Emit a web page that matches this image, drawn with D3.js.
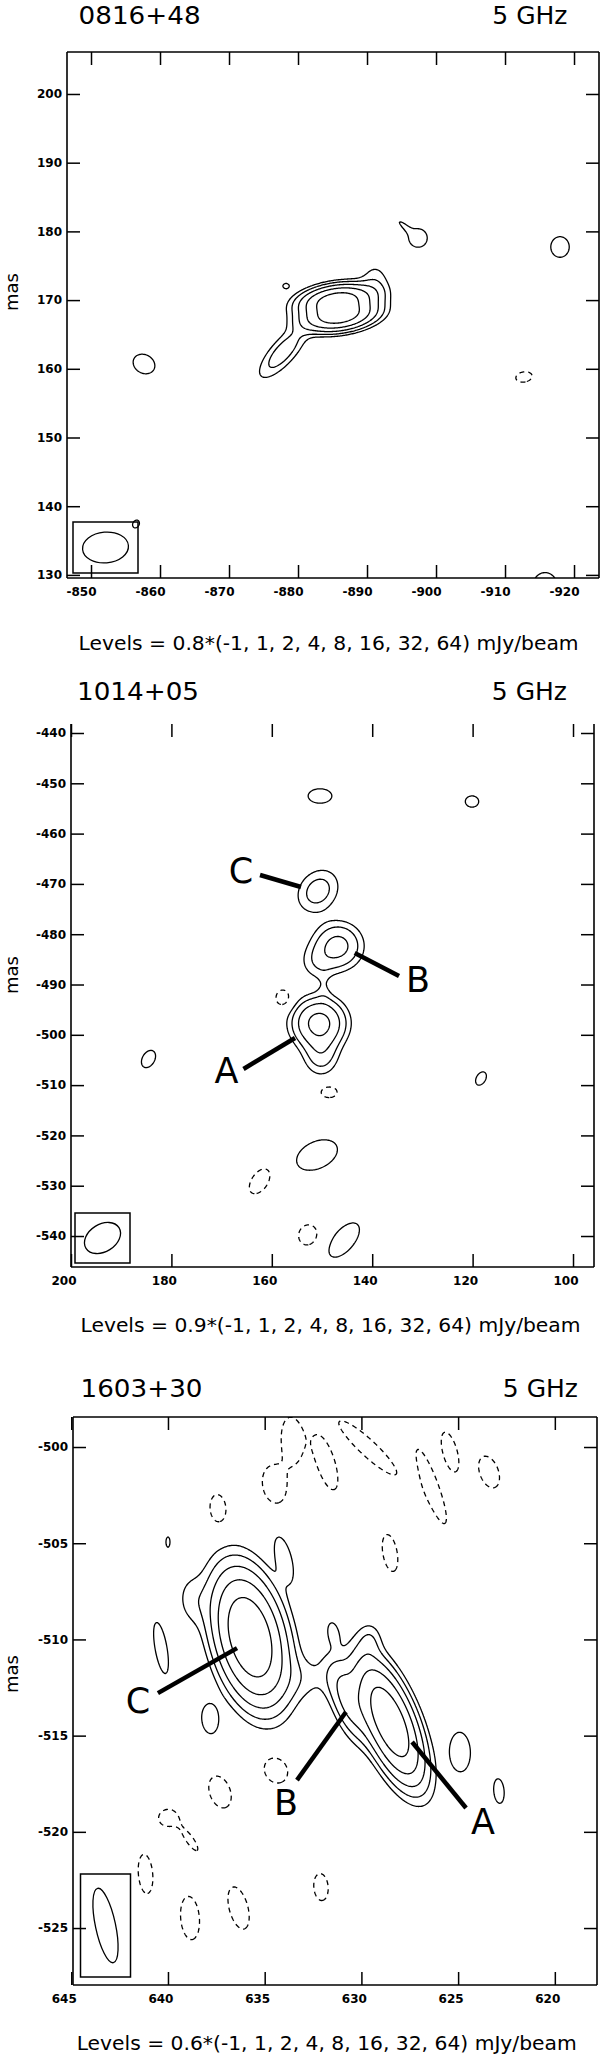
<!DOCTYPE html>
<html><head><meta charset="utf-8">
<script src="https://cdn.jsdelivr.net/npm/d3@7"></script>
<style>body{margin:0;background:#fff} svg{display:block}</style>
</head><body>
<svg id="chart" width="600" height="2055"></svg>
<script>
// ---------------- DATA ----------------
const levelMultipliers = [-1, 1, 2, 4, 8, 16, 32, 64];

// Panel 1 : 0816+48
const p1Title = "0816+48";
const p1Freq = "5 GHz";
const p1Base = 0.8;
const p1XTicks = [-850, -860, -870, -880, -890, -900, -910, -920];
const p1YTicks = [130, 140, 150, 160, 170, 180, 190, 200];
const p1XDomain = [-846.52, -923.62];
const p1YDomain = [129.55, 206.11];
// components: [x mas, y mas, peak mJy/beam, sigma major mas, sigma minor mas, angle deg]
const p1Components = [
  [-885.64, 170.00, 18.3, 2.90, 1.16, 8],
  [-885.96, 167.70, 18.3, 2.90, 1.16, 8],
  [-877.83, 162.45, 2.4, 3.19, 1.16, 48],
  [-891.16, 172.60, 1.2, 2.03, 1.45, 90],
  [-897.39, 179.04, 1.36, 1.30, 1.30, 0],
  [-895.36, 180.79, 0.96, 1.30, 0.36, -42],
  [-917.97, 177.73, 1.36, 1.45, 1.30, 90],
  [-878.26, 172.05, 1.36, 0.43, 0.36, 0],
  [-857.68, 160.70, 1.36, 1.60, 1.30, -30],
  [-912.75, 158.81, -1.36, 1.16, 0.72, 10],
  [-915.80, 128.68, 1.36, 1.60, 1.60, 0],
  [-856.52, 137.41, 1.36, 0.58, 0.45, 60]
];
const p1Beam = [3.34, 2.23, 5]; // semi-major, semi-minor (mas), angle

// Panel 2 : 1014+05
const p2Title = "1014+05";
const p2Freq = "5 GHz";
const p2Base = 0.9;
const p2XTicks = [200, 180, 160, 140, 120, 100];
const p2YTicks = [-440, -450, -460, -470, -480, -490, -500, -510, -520, -530, -540];
const p2XDomain = [200, 95.82];
const p2YDomain = [-546.16, -438.21];
const p2Components = [
  [150.40, -452.52, 1.53, 2.29, 1.39, 0],
  [120.12, -453.62, 1.53, 1.29, 1.09, 0],
  [150.80, -471.41, 2.52, 3.09, 2.49, 50],
  [146.81, -482.35, 4.5, 2.90, 2.78, 0],
  [150.80, -485.53, 1.44, 2.39, 2.39, 0],
  [150.60, -497.65, 9.0, 2.99, 2.78, 0],
  [150.20, -503.62, 2.7, 2.78, 2.19, 90],
  [149.60, -490.90, 0.54, 2.39, 1.00, 90],
  [157.77, -492.68, -1.53, 1.59, 1.39, 90],
  [148.61, -511.37, -1.53, 1.59, 1.09, 0],
  [184.56, -504.81, 1.53, 1.79, 1.19, 60],
  [118.33, -508.69, 1.53, 1.39, 0.90, 60],
  [151.00, -523.90, 1.53, 4.18, 2.59, 25],
  [162.35, -529.07, -1.53, 2.79, 1.59, 55],
  [152.79, -539.80, -1.53, 1.99, 1.79, 70],
  [145.62, -540.80, 1.53, 3.98, 1.99, 50]
];
const p2Beam = [3.87, 2.73, 32];
const p2Labels = ["C", "B", "A"];
const p2LabelPos = [[166.14, -467.24], [130.88, -488.91], [169.02, -507.0]];
const p2Pointers = [[162.35, -468.23, 154.18, -470.62], [143.49, -483.74, 134.66, -488.31], [165.64, -506.8, 155.38, -500.64]];

// Panel 3 : 1603+30
const p3Title = "1603+30";
const p3Freq = "5 GHz";
const p3Base = 0.6;
const p3XTicks = [645, 640, 635, 630, 625, 620];
const p3YTicks = [-500, -505, -510, -515, -520, -525];
const p3XDomain = [644.91, 617.82];
const p3YDomain = [-527.96, -498.44];
const p3Components = [
  [635.76, -509.88, 18.0, 1.87, 0.93, 104],
  [638.76, -507.95, 0.78, 0.94, 0.57, 95],
  [640.36, -510.45, 1.02, 1.30, 0.30, 100],
  [634.00, -505.77, 1.02, 1.09, 0.36, 105],
  [640.00, -504.94, 1.02, 0.26, 0.10, 90],
  [637.83, -514.14, 1.02, 0.73, 0.41, 95],
  [624.90, -515.85, 1.02, 0.99, 0.52, 92],
  [622.89, -517.88, 1.02, 0.62, 0.26, 95],
  [628.52, -514.29, 16.8, 1.81, 0.67, 112],
  [630.69, -513.15, 3.0, 1.35, 0.52, 110],
  [632.92, -512.01, 0.66, 1.14, 0.78, 0],
  [631.47, -509.62, 0.84, 0.52, 0.26, 100],
  [629.56, -510.03, 0.9, 0.62, 0.41, 90],
  [633.59, -499.64, -1.02, 1.14, 0.52, 95],
  [631.83, -500.83, -1.02, 1.40, 0.45, 107],
  [629.66, -500.05, -1.02, 1.94, 0.41, -43],
  [626.40, -502.03, -1.02, 1.96, 0.36, 110],
  [625.42, -500.26, -1.02, 1.03, 0.36, 105],
  [623.40, -501.30, -1.02, 0.83, 0.47, 110],
  [634.52, -501.98, -1.02, 0.94, 0.57, 100],
  [637.41, -503.22, -1.02, 0.73, 0.41, 95],
  [628.52, -505.51, -1.02, 0.94, 0.36, 100],
  [634.42, -516.79, -1.02, 0.68, 0.57, 120],
  [637.31, -517.93, -1.02, 0.83, 0.52, 110],
  [640.00, -519.28, -1.02, 0.47, 0.42, 0],
  [638.86, -520.43, -0.90, 0.72, 0.21, -55],
  [641.16, -522.19, -1.02, 0.99, 0.36, 95],
  [638.86, -524.48, -1.02, 1.09, 0.47, 95],
  [636.35, -523.96, -1.02, 1.09, 0.47, 105],
  [632.09, -522.87, -1.02, 0.68, 0.36, 95]
];
const p3Beam = [1.97, 0.52, 102];
const p3Labels = ["C", "B", "A"];
const p3LabelPos = [[641.55, -513.15], [633.90, -518.45], [623.71, -519.44]];
const p3Pointers = [[640.52, -512.79, 636.43, -510.45], [633.33, -517.31, 630.80, -513.77], [627.38, -515.33, 624.59, -518.76]];

// ---------------- LAYOUT ----------------
const panels = [
  {title: p1Title, freq: p1Freq, base: p1Base, xTicks: p1XTicks, yTicks: p1YTicks, xDomain: p1XDomain, yDomain: p1YDomain,
   comps: p1Components, beam: p1Beam, labels: [], labelPos: [], pointers: [],
   box: {left: 67, right: 599, top: 52, bottom: 578}, topLine: true,
   titleY: 24, titleX: 78.6, freqX: 567.5, levelsY: 650, levelsX: 78.6, masY: 292,
   beamBox: {dx: 6, dy: 5, w: 65, h: 51}},
  {title: p2Title, freq: p2Freq, base: p2Base, xTicks: p2XTicks, yTicks: p2YTicks, xDomain: p2XDomain, yDomain: p2YDomain,
   comps: p2Components, beam: p2Beam, labels: p2Labels, labelPos: p2LabelPos, pointers: p2Pointers,
   box: {left: 71, right: 594, top: 724, bottom: 1267}, topLine: false,
   titleY: 700, titleX: 77, freqX: 567, levelsY: 1332, levelsX: 80.5, masY: 975,
   beamBox: {dx: 4, dy: 4, w: 55, h: 50}},
  {title: p3Title, freq: p3Freq, base: p3Base, xTicks: p3XTicks, yTicks: p3YTicks, xDomain: p3XDomain, yDomain: p3YDomain,
   comps: p3Components, beam: p3Beam, labels: p3Labels, labelPos: p3LabelPos, pointers: p3Pointers,
   box: {left: 73, right: 597, top: 1417, bottom: 1985}, topLine: true,
   titleY: 1397, titleX: 80.5, freqX: 578, levelsY: 2050, levelsX: 76.7, masY: 1674,
   beamBox: {dx: 7.5, dy: 8, w: 50, h: 103}}
];

const svg = d3.select("#chart");
const FONT = "DejaVu Sans, Verdana, sans-serif";

panels.forEach((P, pi) => {
  const {left, right, top, bottom} = P.box;
  const x = d3.scaleLinear().domain(P.xDomain).range([left, right]);
  const y = d3.scaleLinear().domain(P.yDomain).range([bottom, top]);
  const k = (Math.abs(x(1) - x(0)) + Math.abs(y(1) - y(0))) / 2;
  const g = svg.append("g");

  // titles
  g.append("text").attr("x", P.titleX).attr("y", P.titleY).attr("font-family", FONT)
    .attr("font-size", 25).attr("textLength", 122).attr("lengthAdjust", "spacingAndGlyphs").text(P.title);
  g.append("text").attr("x", P.freqX).attr("y", P.titleY).attr("font-family", FONT)
    .attr("font-size", 25).attr("text-anchor", "end").text(P.freq);
  g.append("text").attr("x", P.levelsX).attr("y", P.levelsY).attr("font-family", FONT)
    .attr("font-size", 20).attr("textLength", 500).attr("lengthAdjust", "spacingAndGlyphs")
    .text(`Levels = ${P.base}*(${levelMultipliers.join(", ")}) mJy/beam`);
  g.append("text").attr("transform", `translate(18,${P.masY}) rotate(-90)`).attr("font-family", FONT)
    .attr("font-size", 18).attr("text-anchor", "middle").text("mas");

  // field grid
  const pad = 12;
  const gx0 = Math.floor(left) - pad, gy0 = Math.floor(top) - pad;
  const n = Math.ceil(right - left) + 2 * pad, m = Math.ceil(bottom - top) + 2 * pad;
  const comps = P.comps.map(([cx, cy, peak, sa, sb, ang]) => {
    const t = ang * Math.PI / 180;
    return {px: x(cx), py: y(cy), peak, a2: 2 * (sa * k) ** 2, b2: 2 * (sb * k) ** 2, c: Math.cos(t), s: Math.sin(t)};
  });
  const values = new Float64Array(n * m);
  for (let j = 0; j < m; j++) {
    const py = gy0 + j + 0.5;
    for (let i = 0; i < n; i++) {
      const px = gx0 + i + 0.5;
      let f = 0;
      for (const c of comps) {
        const dx = px - c.px, dy = c.py - py;
        const u = dx * c.c + dy * c.s, v = -dx * c.s + dy * c.c;
        const q = u * u / c.a2 + v * v / c.b2;
        if (q < 40) f += c.peak * Math.exp(-q);
      }
      values[j * n + i] = f;
    }
  }
  const posLevels = levelMultipliers.filter(l => l > 0).map(l => l * P.base);
  const negLevels = levelMultipliers.filter(l => l < 0).map(l => -l * P.base);
  const posContours = d3.contours().size([n, m]).thresholds(posLevels)(values);
  const negContours = d3.contours().size([n, m]).thresholds(negLevels)(values.map(v => -v));

  const clipId = "clip" + pi;
  svg.append("clipPath").attr("id", clipId).append("rect")
    .attr("x", left).attr("y", top).attr("width", right - left).attr("height", bottom - top);
  const cg = g.append("g").attr("clip-path", `url(#${clipId})`)
    .append("g").attr("transform", `translate(${gx0},${gy0})`);
  const path = d3.geoPath();
  cg.selectAll("path.pos").data(posContours).join("path").attr("class", "pos")
    .attr("d", path).attr("fill", "none").attr("stroke", "#000").attr("stroke-width", 1.3);
  cg.selectAll("path.neg").data(negContours).join("path").attr("class", "neg")
    .attr("d", path).attr("fill", "none").attr("stroke", "#000").attr("stroke-width", 1.3)
    .attr("stroke-dasharray", "5,4");

  // beam
  const bb = P.beamBox;
  const bx = left + bb.dx, by = bottom - bb.dy - bb.h;
  g.append("rect").attr("x", bx).attr("y", by).attr("width", bb.w).attr("height", bb.h)
    .attr("fill", "none").attr("stroke", "#000").attr("stroke-width", 1.5);
  const [ba, bbm, bang] = P.beam;
  g.append("ellipse").attr("cx", bx + bb.w / 2).attr("cy", by + bb.h / 2)
    .attr("rx", ba * k).attr("ry", bbm * k)
    .attr("transform", `rotate(${-bang},${bx + bb.w / 2},${by + bb.h / 2})`)
    .attr("fill", "none").attr("stroke", "#000").attr("stroke-width", 1.3);

  // pointers + labels
  g.selectAll("line.ptr").data(P.pointers).join("line").attr("class", "ptr")
    .attr("x1", d => x(d[0])).attr("y1", d => y(d[1])).attr("x2", d => x(d[2])).attr("y2", d => y(d[3]))
    .attr("stroke", "#000").attr("stroke-width", 4.5);
  g.selectAll("text.lab").data(P.labels).join("text").attr("class", "lab")
    .attr("x", (d, i) => x(P.labelPos[i][0])).attr("y", (d, i) => y(P.labelPos[i][1]))
    .attr("dy", "0.36em").attr("text-anchor", "middle").attr("font-family", FONT).attr("font-size", 35).text(d => d);

  // axes
  const tk = 13;
  const fmt = d => String(d);
  const axB = g.append("g").attr("transform", `translate(0,${bottom})`)
    .call(d3.axisBottom(x).tickValues(P.xTicks).tickSize(-tk).tickFormat(fmt));
  axB.selectAll("text").attr("y", 18).attr("dy", null).attr("x", 5).attr("text-anchor", "end");
  const axT = g.append("g").attr("transform", `translate(0,${top})`)
    .call(d3.axisTop(x).tickValues(P.xTicks).tickSize(-tk).tickFormat(""));
  const axL = g.append("g").attr("transform", `translate(${left},0)`)
    .call(d3.axisLeft(y).tickValues(P.yTicks).tickSize(-tk).tickFormat(fmt));
  axL.selectAll("text").attr("x", -5).attr("text-anchor", "end");
  const axR = g.append("g").attr("transform", `translate(${right},0)`)
    .call(d3.axisRight(y).tickValues(P.yTicks).tickSize(-tk).tickFormat(""));
  [axB, axT, axL, axR].forEach(a => {
    a.select(".domain").remove();
    a.attr("font-family", FONT).attr("font-size", 12).attr("font-weight", "bold");
    a.selectAll("line").attr("stroke-width", 1.5);
  });
  // frame
  const fr = g.append("g").attr("stroke", "#000").attr("stroke-width", 1.6).attr("fill", "none");
  fr.append("line").attr("x1", left).attr("x2", left).attr("y1", top).attr("y2", bottom);
  fr.append("line").attr("x1", right).attr("x2", right).attr("y1", top).attr("y2", bottom);
  fr.append("line").attr("x1", left).attr("x2", right).attr("y1", bottom).attr("y2", bottom);
  if (P.topLine) fr.append("line").attr("x1", left).attr("x2", right).attr("y1", top).attr("y2", top);
});
</script>
</body></html>
